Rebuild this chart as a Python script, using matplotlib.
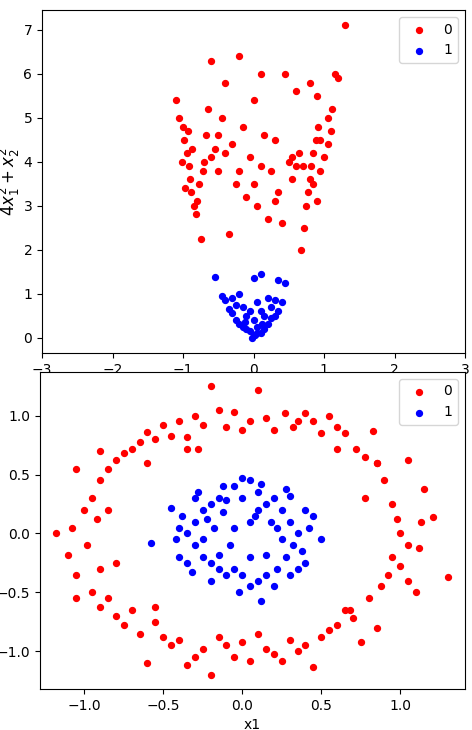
import matplotlib
matplotlib.use("Agg")
import matplotlib.pyplot as plt
import numpy as np

outer_pts = [(1.0,0.0),(1.05,-0.1),(0.98,0.12),(1.12,-0.12),(1.15,0.38),(1.21,0.14),(1.05,0.62),(0.95,0.25),(0.9,0.45),(0.85,0.6),(0.83,0.87),(0.78,0.65),(0.72,0.72),(0.65,0.85),(0.6,0.9),(0.55,1.0),(0.5,0.85),(0.45,0.95),(0.4,1.02),(0.32,0.9),(0.27,1.02),(0.2,0.88),(0.15,0.98),(0.1,1.22),(0.05,0.95),(0.0,0.88),(-0.05,1.03),(-0.1,0.9),(-0.15,1.05),(-0.2,1.25),(-0.25,0.92),(-0.3,1.0),(-0.35,0.82),(-0.4,0.95),(-0.45,0.83),(-0.5,0.92),(-0.55,0.8),(-0.6,0.86),(-0.65,0.78),(-0.7,0.72),(-0.75,0.68),(-0.8,0.62),(-0.85,0.55),(-0.9,0.45),(-0.95,0.3),(-1.05,0.55),(-1.0,0.2),(-0.92,0.12),(-1.08,0.05),(-1.18,0.0),(-1.1,-0.18),(-0.98,-0.1),(-1.05,-0.35),(-0.9,-0.3),(-1.05,-0.55),(-0.95,-0.5),(-0.9,-0.62),(-0.85,-0.55),(-0.8,-0.7),(-0.75,-0.78),(-0.7,-0.65),(-0.65,-0.85),(-0.6,-1.1),(-0.55,-0.75),(-0.5,-0.88),(-0.45,-0.95),(-0.4,-0.9),(-0.35,-1.12),(-0.3,-1.05),(-0.25,-0.98),(-0.2,-1.2),(-0.15,-0.88),(-0.1,-0.95),(-0.05,-1.05),(0.0,-0.92),(0.05,-1.08),(0.1,-0.85),(0.15,-0.98),(0.2,-1.02),(0.25,-1.08),(0.3,-0.9),(0.35,-1.0),(0.4,-0.95),(0.45,-1.13),(0.5,-0.88),(0.55,-0.82),(0.6,-0.78),(0.65,-0.65),(0.7,-0.72),(0.75,-0.92),(0.8,-0.55),(0.85,-0.8),(0.88,-0.45),(0.92,-0.35),(0.95,-0.2),(1.0,-0.28),(1.05,-0.4),(1.1,-0.5),(1.3,-0.37),(-0.35,0.72),(0.85,0.6),(0.78,0.3),(-0.85,0.2),(-0.8,-0.25),(0.68,-0.65),(-0.6,0.6),(0.6,0.72),(-0.28,0.72),(1.13,0.1),(-0.9,0.7),(0.35,0.95),(-0.55,-0.62)]

inner_pts = [(0.0,0.3),(0.05,0.45),(-0.05,0.4),(0.1,0.35),(0.15,0.25),(0.2,0.3),(0.25,0.2),(0.3,0.1),(0.35,0.0),(0.32,-0.1),(0.28,-0.2),(0.22,-0.3),(0.15,-0.35),(0.1,-0.4),(0.05,-0.45),(0.0,-0.35),(-0.05,-0.3),(-0.1,-0.35),(-0.15,-0.3),(-0.2,-0.25),(-0.25,-0.2),(-0.3,-0.1),(-0.35,0.0),(-0.3,0.1),(-0.25,0.2),(-0.2,0.25),(-0.15,0.3),(-0.1,0.28),(0.12,-0.57),(-0.58,-0.08),(-0.45,0.22),(0.5,-0.05),(0.45,0.15),(0.4,-0.25),(-0.4,-0.2),(-0.38,0.15),(0.08,0.15),(-0.08,-0.1),(0.18,0.1),(-0.18,0.05),(0.25,-0.05),(-0.25,-0.05),(0.0,0.47),(-0.3,0.3),(0.3,0.32),(0.35,-0.3),(-0.32,-0.33),(0.2,-0.45),(-0.2,-0.4),(0.4,0.2),(-0.42,-0.05),(0.1,0.2),(-0.12,0.18),(0.05,-0.2),(-0.02,-0.5),(0.28,0.38),(-0.28,0.35),(0.42,0.05),(-0.4,0.05),(0.15,-0.18),(-0.15,-0.18),(0.3,-0.35),(0.22,0.05),(-0.22,0.12),(0.12,0.42),(-0.12,0.4),(0.38,-0.15),(-0.35,-0.25),(0.05,0.1),(-0.05,0.05)]

top_red = [(-1.1,5.4),(-1.05,5.0),(-1.0,4.8),(-0.98,4.5),(-0.95,4.2),(-0.92,3.9),(-0.9,3.6),(-0.88,3.3),(-0.85,3.0),(-0.82,2.8),(-0.8,3.1),(-0.78,3.5),(-0.75,2.25),(-0.7,4.0),(-0.68,4.6),(-0.65,5.2),(-0.6,6.3),(-0.55,4.3),(-0.5,3.8),(-0.45,5.0),(-0.4,5.8),(-0.35,2.35),(-0.3,4.4),(-0.25,3.5),(-0.2,6.4),(-0.15,4.8),(-0.1,3.2),(-0.05,4.1),(0.0,5.4),(0.05,3.0),(0.1,6.0),(0.15,4.6),(0.2,2.7),(0.25,3.8),(0.3,4.5),(0.35,3.3),(0.4,2.6),(0.45,6.0),(0.5,4.0),(0.55,3.6),(0.6,5.6),(0.65,4.2),(0.68,2.0),(0.72,2.5),(0.75,3.0),(0.78,3.3),(0.8,3.6),(0.82,3.9),(0.85,4.2),(0.88,4.5),(0.9,3.1),(0.92,4.8),(0.95,3.8),(1.0,4.1),(1.05,4.4),(1.1,4.7),(1.12,5.2),(1.15,6.0),(1.2,5.9),(1.3,7.1),(-1.02,4.0),(-0.93,4.7),(-0.87,4.3),(-0.72,3.8),(-0.6,4.1),(-0.4,4.2),(-0.2,3.8),(0.1,3.9),(0.3,3.1),(0.55,4.1),(0.7,3.9),(0.85,3.5),(0.95,4.5),(1.05,5.0),(-0.97,3.4),(0.6,3.9),(0.0,3.5),(-0.5,4.6),(0.9,5.5),(0.8,5.8)]

top_blue = [(0,0.05),(0.05,0.1),(-0.05,0.15),(0.1,0.1),(-0.1,0.2),(0.15,0.2),(-0.15,0.25),(0.2,0.3),(-0.2,0.3),(0.25,0.45),(-0.25,0.4),(0.3,0.5),(-0.3,0.55),(0.35,0.6),(-0.35,0.65),(0.4,0.8),(-0.4,0.85),(0.45,1.25),(-0.45,0.95),(-0.55,1.38),(0.1,1.45),(0.0,1.35),(0.05,0.8),(-0.05,0.6),(0.15,0.5),(-0.15,0.7),(0.2,0.9),(-0.2,1.0),(0.3,0.85),(-0.3,0.9),(0.0,0.4),(0.1,0.6),(-0.1,0.5),(0.25,0.7),(-0.25,0.75),(0.35,1.3),(0.12,0.3),(-0.12,0.35),(0.05,0.25),(-0.02,0.0),(0.02,0.05)]

fig = plt.figure(figsize=(4.72, 7.3), dpi=100)
ax1 = fig.add_axes([42/472, 1-353/730, 423/472, 343/730])
ax2 = fig.add_axes([40/472, 1-689/730, 425/472, 317/730])

for ax, red, blue in [(ax1, top_red, top_blue), (ax2, outer_pts, inner_pts)]:
    r = np.array(red); b = np.array(blue)
    ax.scatter(r[:, 0], r[:, 1], c='red', s=18, label='0')
    ax.scatter(b[:, 0], b[:, 1], c='blue', s=18, label='1')
    ax.legend(loc='upper right')

ax1.set_xlim(-3, 3)
ax1.set_ylim(-0.35, 7.45)
ax1.set_ylabel(r'$4x_1^2 + x_2^2$', fontsize=12, labelpad=1)
ax2.set_xlim(-1.28, 1.41)
ax2.set_ylim(-1.32, 1.37)
ax2.set_xlabel('x1')
fig.savefig('out.png', dpi=100)
